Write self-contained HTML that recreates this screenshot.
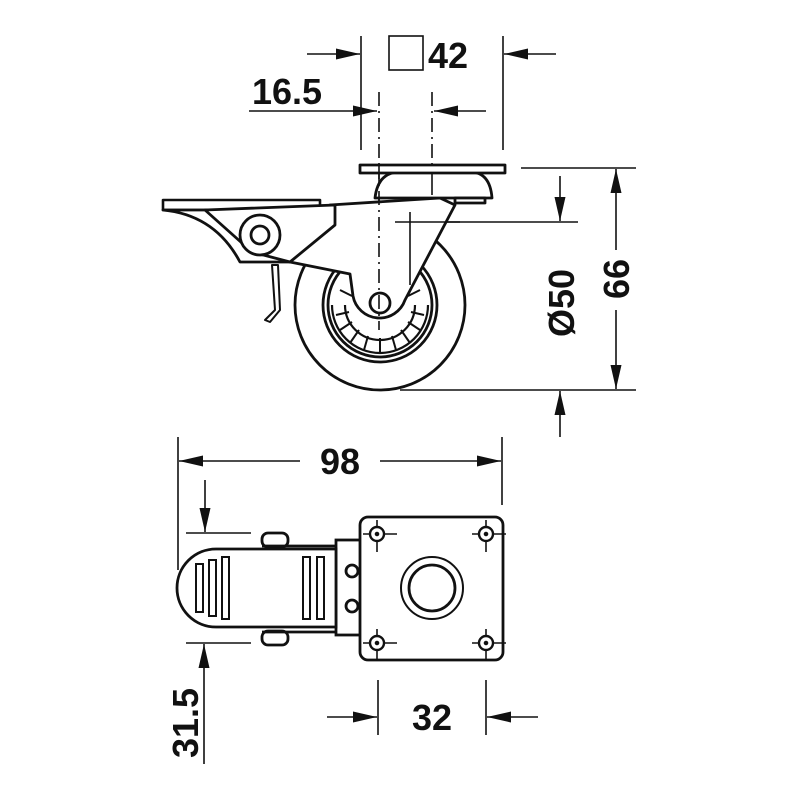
<!DOCTYPE html>
<html><head><meta charset="utf-8"><style>
html,body{margin:0;padding:0;background:#fff;}
svg{display:block;}
text{font-family:"Liberation Sans",sans-serif;font-weight:bold;fill:#111;}
</style></head><body>
<svg width="800" height="800" viewBox="0 0 800 800" xmlns="http://www.w3.org/2000/svg">
<defs>
<marker id="ah" viewBox="0 0 24 11" refX="24" refY="5.5" markerWidth="24" markerHeight="11" markerUnits="userSpaceOnUse" orient="auto">
<path d="M0,0 L24,5.5 L0,11 Z" fill="#111"/>
</marker>
</defs>
<g stroke="#111" fill="none" stroke-width="1.6">
<line x1="361" y1="36" x2="361" y2="150"/>
<line x1="503" y1="36" x2="503" y2="150"/>
<line x1="307" y1="54" x2="360" y2="54" marker-end="url(#ah)"/>
<line x1="556" y1="54" x2="504" y2="54" marker-end="url(#ah)"/>
<rect x="389" y="36" width="34" height="34"/>
<line x1="249" y1="111" x2="377" y2="111" marker-end="url(#ah)"/>
<line x1="486" y1="111" x2="434" y2="111" marker-end="url(#ah)"/>
<line x1="379" y1="92" x2="379" y2="330" stroke-dasharray="14,5,2,5"/>
<line x1="432" y1="92" x2="432" y2="165" stroke-dasharray="14,5,2,5"/>
<line x1="521" y1="168" x2="636" y2="168"/>
<line x1="395" y1="222" x2="578" y2="222"/>
<line x1="400" y1="390" x2="636" y2="390"/>
<line x1="560" y1="176" x2="560" y2="221" marker-end="url(#ah)"/>
<line x1="560" y1="437" x2="560" y2="391" marker-end="url(#ah)"/>
<line x1="616" y1="250" x2="616" y2="169" marker-end="url(#ah)"/>
<line x1="616" y1="310" x2="616" y2="389" marker-end="url(#ah)"/>
</g>
<g stroke="#111" fill="#fff" stroke-width="2.8" stroke-linejoin="round">
<circle cx="380" cy="305" r="85"/>
<circle cx="380" cy="305" r="57"/>
<circle cx="380" cy="305" r="52"/>
<g stroke-width="2.2">
<path d="M332,305 A48,48 0 0 0 428,305"/>
<path d="M345,305 A35,35 0 0 0 415,305" />
</g>
<g stroke-width="2">
<line x1="336" y1="315" x2="349" y2="312"/>
<line x1="340" y1="330" x2="352" y2="322"/>
<line x1="350" y1="343" x2="359" y2="330"/>
<line x1="364" y1="350" x2="368" y2="336"/>
<line x1="380" y1="353" x2="380" y2="338"/>
<line x1="396" y1="350" x2="392" y2="336"/>
<line x1="410" y1="343" x2="401" y2="330"/>
<line x1="420" y1="330" x2="408" y2="322"/>
<line x1="424" y1="315" x2="411" y2="312"/>
<line x1="340" y1="290" x2="352" y2="296"/>
<line x1="420" y1="290" x2="408" y2="296"/>
</g>
<path d="M290,262 L350,274 L353,296 A27,27 0 0 0 405,300 L455,205 L440,198 L330,205 Z"/>
<circle cx="380" cy="303" r="10"/>
<path d="M163,200 L320,200 L320,210 L163,210 Z" stroke-width="2.6"/>
<path d="M163,210 Q215,215 240,262 L290,262 L270,230 L230,210 Z"/>
<path d="M205,210 L335,205 L335,225 L290,262 L252,252 Z"/>
<circle cx="260" cy="235" r="20"/>
<circle cx="260" cy="235" r="9"/>
<path d="M272,265 L275,310 L265,320 L270,322 L280,310 L278,265 Z" stroke-width="2"/>
<path d="M375,198 Q378,172 400,172 L470,172 Q490,172 492,198 Z"/>
<rect x="360" y="165" width="145" height="8"/>
<rect x="455" y="198" width="30" height="5"/>
</g>
<line x1="379" y1="165" x2="379" y2="330" stroke="#111" stroke-width="1.6" stroke-dasharray="14,5,2,5"/>
<line x1="432" y1="172" x2="432" y2="195" stroke="#111" stroke-width="1.6"/>
<line x1="395" y1="222" x2="460" y2="222" stroke="#111" stroke-width="1.6"/>
<line x1="410" y1="212" x2="410" y2="285" stroke="#111" stroke-width="1.6"/>
<g stroke="#111" fill="none" stroke-width="1.6">
<line x1="178" y1="437" x2="178" y2="570"/>
<line x1="502" y1="437" x2="502" y2="505"/>
<line x1="300" y1="461" x2="179" y2="461" marker-end="url(#ah)"/>
<line x1="380" y1="461" x2="501" y2="461" marker-end="url(#ah)"/>
<line x1="186" y1="533" x2="251" y2="533"/>
<line x1="186" y1="643" x2="251" y2="643"/>
<line x1="205" y1="480" x2="205" y2="532" marker-end="url(#ah)"/>
<line x1="204" y1="764" x2="204" y2="644" marker-end="url(#ah)"/>
<line x1="378" y1="680" x2="378" y2="735"/>
<line x1="486" y1="680" x2="486" y2="735"/>
<line x1="327" y1="717" x2="377" y2="717" marker-end="url(#ah)"/>
<line x1="538" y1="717" x2="487" y2="717" marker-end="url(#ah)"/>
</g>
<g stroke="#111" fill="#fff" stroke-width="2.8">
<rect x="262" y="533" width="26" height="14" rx="6"/>
<rect x="262" y="631" width="26" height="14" rx="6"/>
<rect x="336" y="540" width="26" height="95"/>
<circle cx="352" cy="571" r="6"/>
<circle cx="352" cy="606" r="6"/>
<path d="M216,549 L336,549 L336,627 L216,627 A39,39 0 0 1 216,549 Z"/>
<line x1="262" y1="546" x2="336" y2="546"/>
<line x1="262" y1="632" x2="336" y2="632"/>
<rect x="360" y="517" width="143" height="143" rx="8"/>
<circle cx="432" cy="588" r="31" stroke-width="2"/>
<circle cx="432" cy="588" r="23"/>
</g>
<g stroke="#111" fill="none" stroke-width="2">
<rect x="196" y="564" width="7" height="48"/>
<rect x="209" y="560" width="7" height="56"/>
<rect x="222" y="557" width="7" height="62"/>
<rect x="303" y="557" width="7" height="62"/>
<rect x="317" y="557" width="7" height="62"/>
</g>
<g stroke="#111" stroke-width="1.6" fill="#fff">
<g id="h"><line x1="377" y1="520" x2="377" y2="552"/><line x1="363" y1="534" x2="397" y2="534"/><circle cx="377" cy="534" r="7" stroke-width="2.4"/><circle cx="377" cy="534" r="1.5" fill="#111"/></g>
<use href="#h" x="109"/>
<use href="#h" y="109"/>
<use href="#h" x="109" y="109"/>
</g>
<text x="428" y="68" font-size="36">42</text>
<text x="252" y="104" font-size="36">16.5</text>
<text x="340" y="474" font-size="36" text-anchor="middle">98</text>
<text x="432" y="730" font-size="36" text-anchor="middle">32</text>
<text transform="translate(198,723) rotate(-90)" font-size="36" text-anchor="middle">31.5</text>
<text transform="translate(574,303) rotate(-90)" font-size="36" text-anchor="middle">Ø50</text>
<text transform="translate(629,279) rotate(-90)" font-size="36" text-anchor="middle">66</text>
</svg>
</body></html>
